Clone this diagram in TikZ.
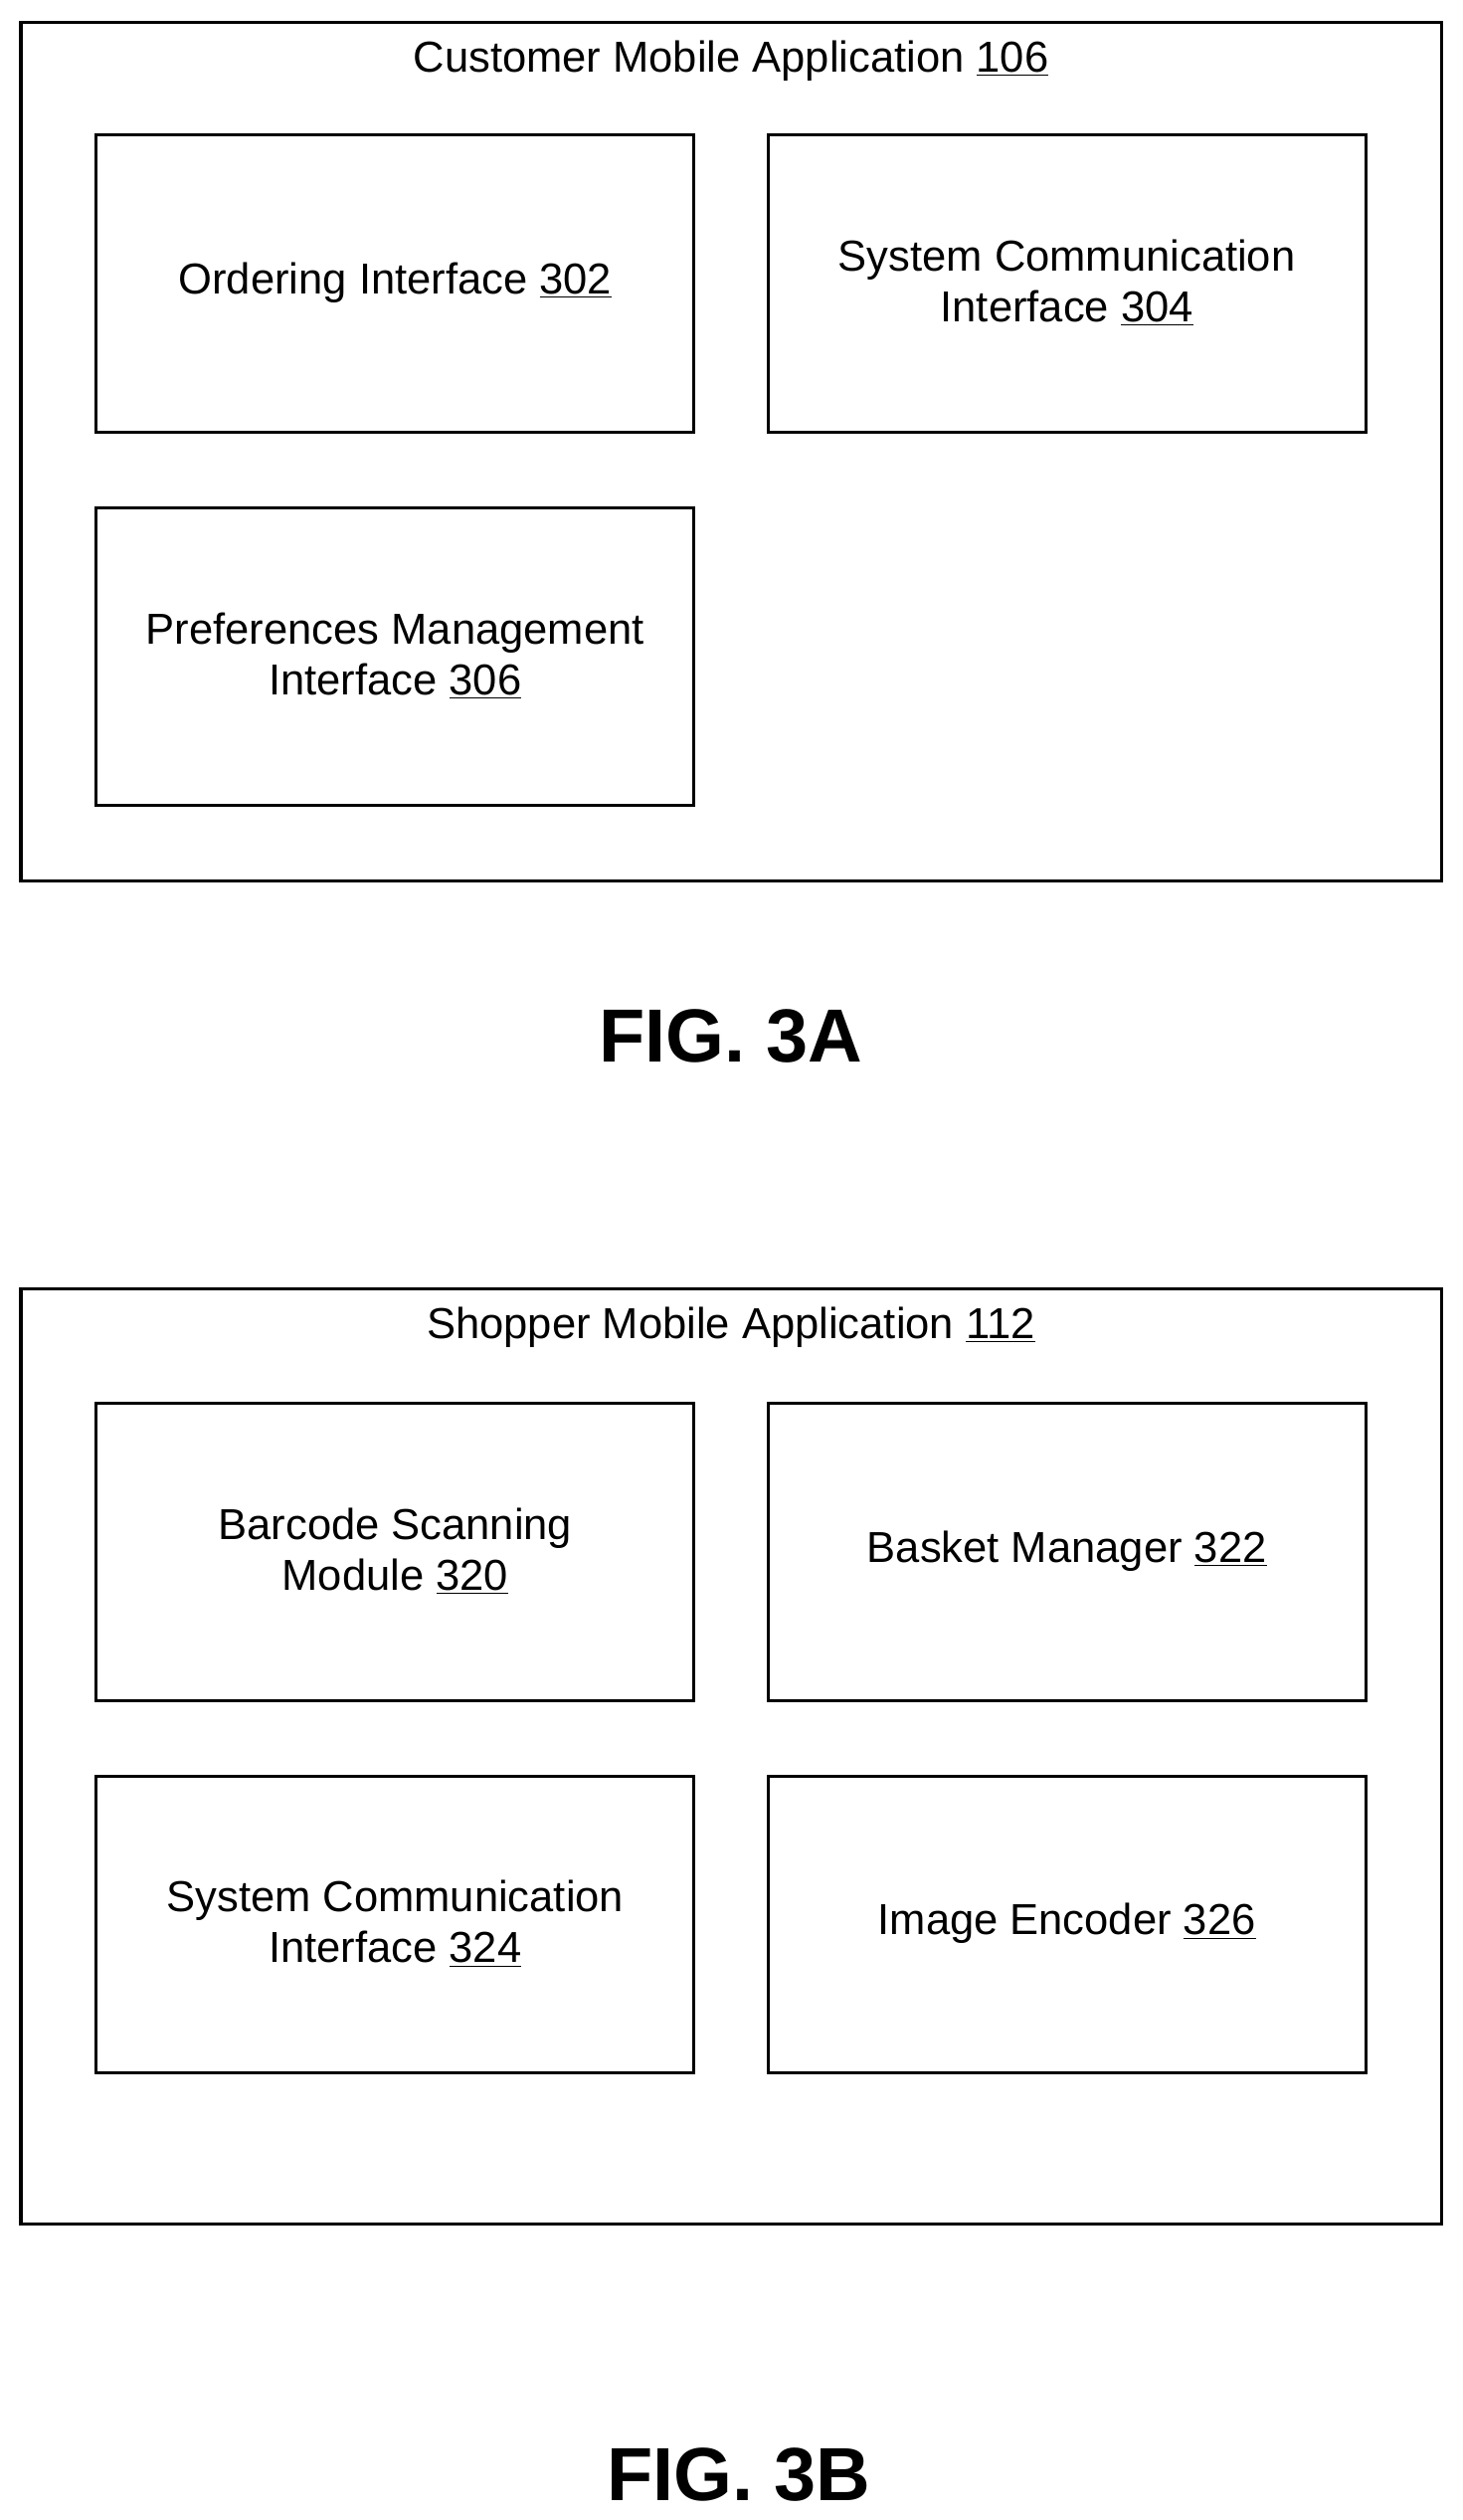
\documentclass[tikz,border=0pt]{standalone}
\usepackage{fontspec}
\setmainfont{Liberation Sans}
\begin{document}
\begin{tikzpicture}[x=0.03cm,y=-0.03cm,
  box/.style={draw,line width=1.6pt},
  lbl/.style={font=\fontsize{23}{27}\selectfont,align=center},
  fig/.style={font=\fontsize{40}{46}\selectfont\bfseries}]
\useasboundingbox (0,0) rectangle (910,1568);
% Fig 3A
\draw[box] (13,14) rectangle (897,548);
\node[lbl] (ta) at (455,38) {Customer Mobile Application \underline{106}};
\draw[box] (60,84) rectangle (432,269); \node[lbl] (a1) at (246,176) {Ordering Interface \underline{302}};
\draw[box] (478,84) rectangle (850,269); \node[lbl] (a2) at (664,176) {System Communication\\Interface \underline{304}};
\draw[box] (60,316) rectangle (432,501); \node[lbl] (a3) at (246,408) {Preferences Management\\Interface \underline{306}};
\node[fig] (fa) at (455,645) {FIG. 3A};
% Fig 3B
\draw[box] (13,802) rectangle (897,1384);
\node[lbl] (tb) at (455,826) {Shopper Mobile Application \underline{112}};
\draw[box] (60,873) rectangle (432,1058); \node[lbl] (b1) at (246,965) {Barcode Scanning\\Module \underline{320}};
\draw[box] (478,873) rectangle (850,1058); \node[lbl] (b2) at (664,965) {Basket Manager \underline{322}};
\draw[box] (60,1105) rectangle (432,1290); \node[lbl] (b3) at (246,1197) {System Communication\\Interface \underline{324}};
\draw[box] (478,1105) rectangle (850,1290); \node[lbl] (b4) at (664,1197) {Image Encoder \underline{326}};
\node[fig] (fb) at (460,1540) {FIG. 3B};
\end{tikzpicture}
\end{document}
